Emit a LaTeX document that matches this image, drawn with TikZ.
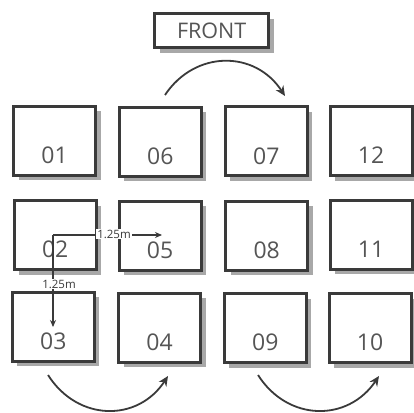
\documentclass[tikz,border=0pt]{standalone}
\usepackage{fontspec}
\setmainfont{Open Sans}
\usetikzlibrary{shadows,arrows.meta}
\definecolor{boxc}{HTML}{3A3A3A}
\definecolor{txtc}{HTML}{555555}
\definecolor{shadc}{HTML}{A8A8A8}
\tikzset{
  seat/.style={draw=boxc, line width=3pt, fill=white, minimum width=82pt, minimum height=69pt, inner sep=0pt,
    drop shadow={shadow xshift=5pt, shadow yshift=-5pt, fill=shadc, opacity=1}},
  frontbox/.style={draw=boxc, line width=3pt, fill=white, minimum width=114pt, minimum height=34pt, inner sep=0pt,
    text=txtc, font=\fontsize{21.5}{23}\selectfont,
    drop shadow={shadow xshift=5pt, shadow yshift=-5pt, fill=shadc, opacity=1}},
  num/.style={text=txtc, font=\fontsize{23}{25}\selectfont, inner sep=0pt},
  flow/.style={draw=boxc, line width=1.8pt, -{Stealth[length=10pt,width=9pt]}},
  measarrow/.style={draw=boxc, line width=1.2pt, -{Stealth[length=7pt,width=6pt]}},
  measlab/.style={fill=white, text=boxc, font=\fontsize{11.5}{12}\selectfont, inner sep=1pt}
}
\begin{document}
\begin{tikzpicture}[x=1pt,y=-1pt]
\useasboundingbox (0,0) rectangle (414,412);
\node[frontbox] (front) at (211.7,30.7) {FRONT};
% row 1
\node[seat] (b01) at (54.5,140.5) {};
\node[seat] (b06) at (160.3,141.7) {};
\node[seat] (b07) at (266.3,141.3) {};
\node[seat] (b12) at (371,141) {};
% row 2
\node[seat] (b02) at (55.2,235.2) {};
\node[seat] (b05) at (160,235.8) {};
\node[seat] (b08) at (266.7,235.5) {};
\node[seat] (b11) at (371,234.5) {};
% row 3
\node[seat] (b03) at (53.3,326.7) {};
\node[seat] (b04) at (159.5,327.8) {};
\node[seat] (b09) at (265.3,328.2) {};
\node[seat] (b10) at (370,328) {};
% numbers
\foreach \n in {01,06,07,12,02,05,08,11,03,04,09,10}
  \node[num] (t\n) at ([yshift=-14.5pt]b\n.center) {\n};
% flow arrows
\coordinate (a1s) at (165,95);
\coordinate (a1e) at (285,96);
\draw[flow] (a1s) .. controls (195,50) and (255,50) .. (a1e);
\coordinate (a2s) at (48,375);
\coordinate (a2e) at (168,376);
\draw[flow] (a2s) .. controls (78,422) and (138,422) .. (a2e);
\coordinate (a3s) at (258,375);
\coordinate (a3e) at (379,376);
\draw[flow] (a3s) .. controls (288,422) and (348,422) .. (a3e);
% measurements
\coordinate (m0) at (53,235);
\coordinate (mh) at (162,235);
\coordinate (mv) at (53,327);
\draw[measarrow] (m0) -- (mh);
\draw[measarrow] (m0) -- (mv);
\node[measlab] (lh) at (114,234) {1.25m};
\node[measlab] (lv) at (59,284) {1.25m};
\end{tikzpicture}
\end{document}
